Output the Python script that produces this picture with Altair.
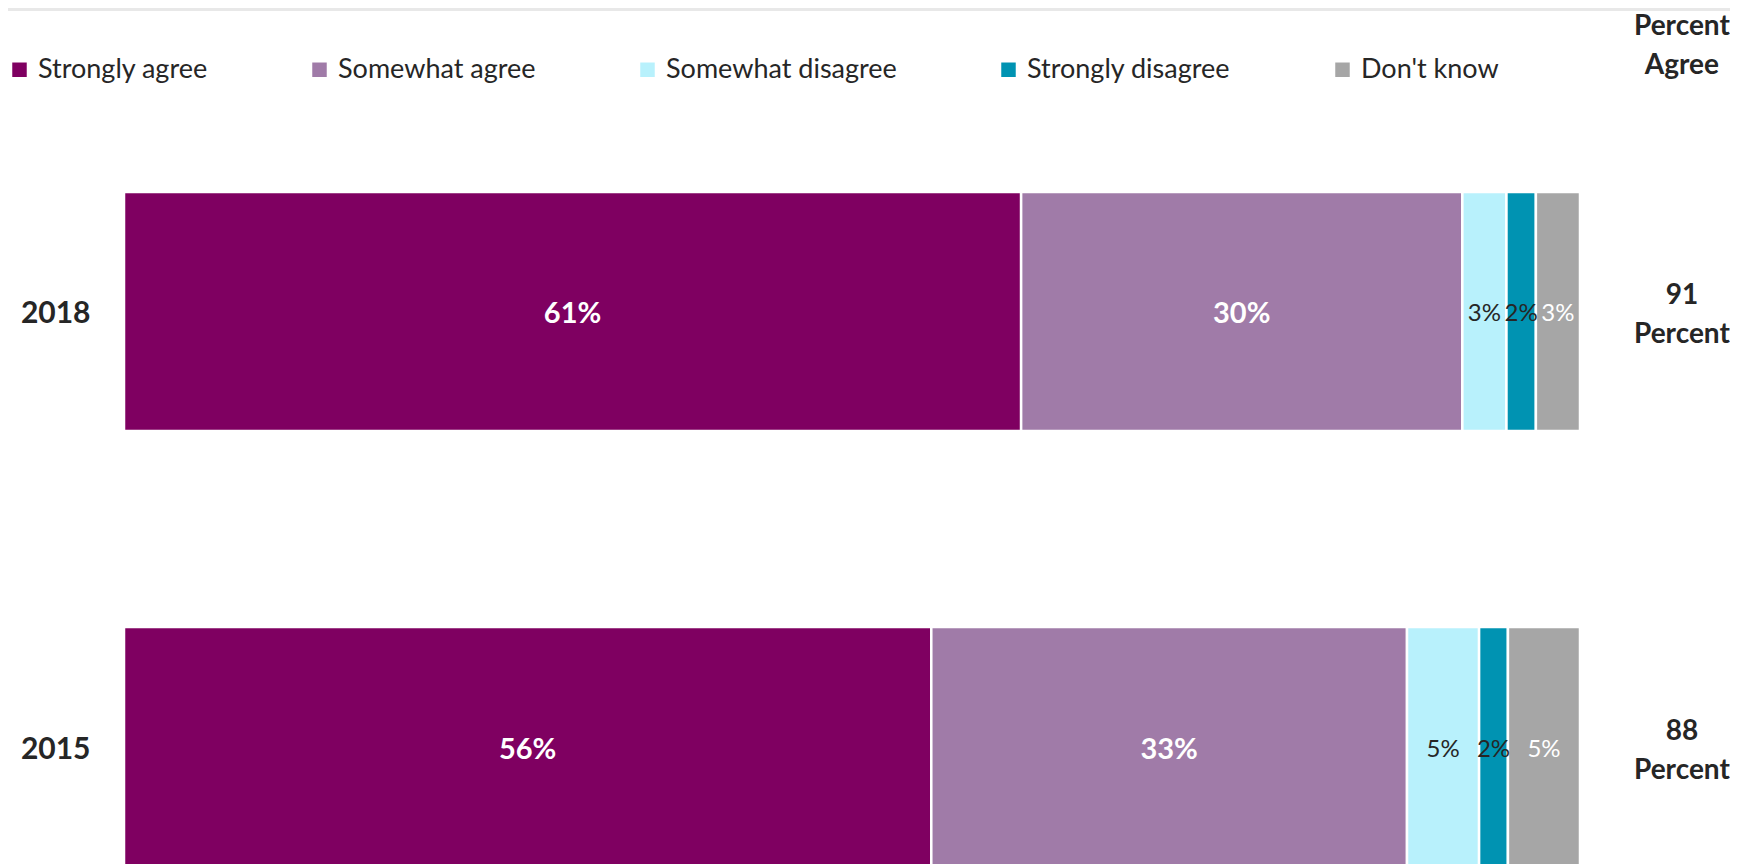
import altair as alt
import pandas as pd

years = ["2018", "2015"]
categories = ["Strongly agree", "Somewhat agree", "Somewhat disagree", "Strongly disagree", "Don't know"]
values_2018 = [61, 30, 3, 2, 3]
values_2015 = [56, 33, 5, 2, 5]
percent_agree = [91, 88]
colors = ["#7F0061", "#A07BA8", "#B8F1FC", "#0093B2", "#A6A6A6"]

rows = []
for y, vals in zip(years, [values_2018, values_2015]):
    for i, (c, v) in enumerate(zip(categories, vals)):
        rows.append({"year": y, "category": c, "value": v, "order": i, "label": f"{v}%"})
df = pd.DataFrame(rows)
agree_df = pd.DataFrame({"year": years, "agree": [f"{p}\nPercent" for p in percent_agree]})

FONT = "Lato"
DARK = "#262626"
XMAX = 1606 / 1456

xs = alt.Scale(domain=[0, XMAX], nice=False, zero=True)
ys = alt.Scale(domain=years, range=[184, 858], paddingInner=0.4506, paddingOuter=0)

base = alt.Chart(df).transform_stack(
    stack="value", as_=["x0", "x1"], groupby=["year"],
    sort=[alt.SortField("order", order="ascending")], offset="normalize"
).transform_calculate(mid="(datum.x0 + datum.x1) / 2")

bars = base.mark_bar(stroke="white", strokeWidth=2.5).encode(
    x=alt.X("x0:Q", scale=xs, axis=None),
    x2="x1:Q",
    y=alt.Y("year:N", scale=ys, sort=years, title=None,
            axis=alt.Axis(domain=False, ticks=False, labelFont=FONT, labelFontSize=30,
                          labelFontWeight="bold", labelColor=DARK, labelPadding=34,
                          labelOffset=3)),
    color=alt.Color("category:N", scale=alt.Scale(domain=categories, range=colors),
                    legend=alt.Legend(title=None, orient="none", legendX=-118, legendY=48,
                                      direction="horizontal", symbolType="square", symbolSize=210,
                                      symbolStrokeWidth=0, labelFont=FONT, labelFontSize=27,
                                      labelColor=DARK, labelOffset=5, columnPadding=98,
                                      labelLimit=0, padding=0)),
)

big = base.transform_filter(alt.datum.order < 2).mark_text(
    font=FONT, fontSize=29, fontWeight="bold", color="white", baseline="middle", dy=3
).encode(x=alt.X("mid:Q", scale=xs), y=alt.Y("year:N", scale=ys, sort=years), text="label:N")

small = base.transform_filter(alt.datum.order >= 2).mark_text(
    font=FONT, fontSize=24, baseline="middle", dy=3
).encode(
    x=alt.X("mid:Q", scale=xs), y=alt.Y("year:N", scale=ys, sort=years), text="label:N",
    color=alt.condition(alt.datum.category == "Don't know", alt.value("white"), alt.value(DARK)),
)

right = alt.Chart(agree_df).mark_text(
    font=FONT, fontSize=28, fontWeight="bold", color=DARK, baseline="middle",
    lineBreak="\n", lineHeight=39, dy=-15
).encode(x=alt.datum(1.07), y=alt.Y("year:N", scale=ys, sort=years), text="agree:N")

header = alt.Chart(pd.DataFrame({"t": ["Percent\nAgree"]})).mark_text(
    font=FONT, fontSize=28, fontWeight="bold", color=DARK, baseline="alphabetic",
    lineBreak="\n", lineHeight=39
).encode(x=alt.datum(1.07), y=alt.value(27), text="t:N")

strip = alt.Chart(pd.DataFrame({"a": [0]})).mark_rect(color="#E8E8E8").encode(
    x=alt.value(-116), x2=alt.value(1606), y=alt.value(0), y2=alt.value(3)
)

chart = alt.layer(strip, bars, big, small, right, header).properties(
    width=1606, height=856,
    autosize=alt.AutoSizeParams(type="none"),
    padding={"left": 116, "top": 0, "right": 0, "bottom": 0},
).configure_view(strokeWidth=0)

chart.save("out.html", embed_options={"renderer": "svg", "actions": False})
